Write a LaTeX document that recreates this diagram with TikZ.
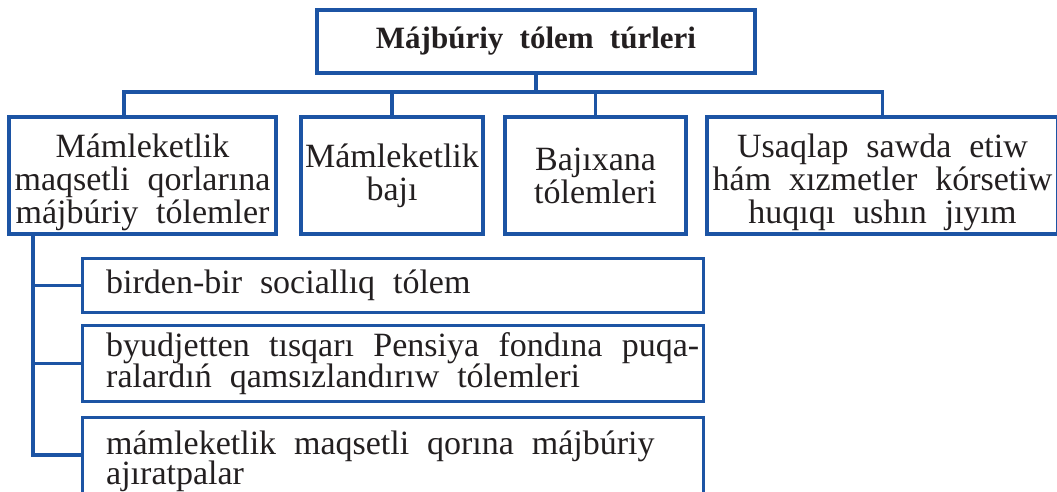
\documentclass[tikz,border=0pt]{standalone}
\usepackage{fontspec}
\setmainfont{Liberation Serif}[WordSpace=2.1]
\definecolor{lineblue}{RGB}{28,84,164}
\definecolor{inktext}{RGB}{35,31,32}
\begin{document}
\begin{tikzpicture}[x=1pt,y=-1pt,
  box/.style={draw=lineblue,line width=3.2pt,inner sep=0pt},
  boxtext/.style={inner sep=0pt,align=center,text=inktext,font=\fontsize{34}{33}\selectfont},
  subbox/.style={draw=lineblue,line width=3.2pt,inner sep=0pt,anchor=north west},
  subtext/.style={inner sep=0pt,align=left,text=inktext,font=\fontsize{34}{31}\selectfont},
  conn/.style={draw=lineblue,line width=3.2pt}]
\useasboundingbox (0,0) rectangle (1057,491);
\clip (0,0) rectangle (1057,491);
% title
\node[box,minimum width=438pt,minimum height=63pt,text=inktext,font=\fontsize{31}{31}\selectfont\bfseries]
  (title) at (536,41.5) {Májbúriy tólem túrleri};
% first level boxes
\node[box,minimum width=267pt,minimum height=117pt] (b1) at (142.5,175.5) {};
\node[box,minimum width=182pt,minimum height=117pt] (b2) at (392,175.5) {};
\node[box,minimum width=181pt,minimum height=117pt] (b3) at (595.5,175.5) {};
\node[box,minimum width=351pt,minimum height=117pt] (b4) at (882.5,175.5) {};
\node[boxtext] (l1) at ([yshift=-7pt]b1.center) {Mámleketlik\\maqsetli qorlarına\\májbúriy tólemler};
\node[boxtext] (l2) at (b2.center) {Mámleketlik\\bajı};
\node[boxtext] (l3) at (b3.center) {Bajıxana\\tólemleri};
\node[boxtext] (l4) at ([yshift=-7pt]b4.center) {Usaqlap sawda etiw\\hám xızmetler kórsetiw\\huqıqı ushın jıyım};
% bus
\coordinate (busL) at (124,92);
\coordinate (busR) at (882.5,92);
\coordinate (busT) at (536,92);
\draw[conn] (b1.north -| busL) -- (busL) -- (busR) -- (b4.north);
\draw[conn] (title.south) -- (busT);
\draw[conn] (b2.north) -- (b2.north |- busL);
\draw[conn] (b3.north) -- (b3.north |- busL);
% sub boxes
\node[subbox,minimum width=621pt,minimum height=54pt] (s1) at (81,257) {};
\node[subbox,minimum width=621pt,minimum height=76pt] (s2) at (81,324) {};
\node[subbox,minimum width=621pt,minimum height=90pt] (s3) at (81,416) {};
\node[subtext,anchor=base west] (t1) at (106,293) {birden-bir sociallıq tólem};
\node[subtext,anchor=west] (t2) at (106,364)
  {\makebox[593pt][s]{byudjetten tısqarı Pensiya fondına puqa-}\\ralardıń qamsızlandırıw tólemleri};
\node[subtext,anchor=west] (t3) at (106,461)
  {mámleketlik maqsetli qorına májbúriy\\[-1pt]ajıratpalar};
% left tree
\coordinate (vt) at (33,235);
\coordinate (vb) at (33,455);
\draw[conn] (vt) -- (vb) -- (vb -| s3.west);
\draw[conn] (s1.west) -- (s1.west -| vt);
\draw[conn] (s2.west) -- (s2.west -| vt);
\end{tikzpicture}
\end{document}
